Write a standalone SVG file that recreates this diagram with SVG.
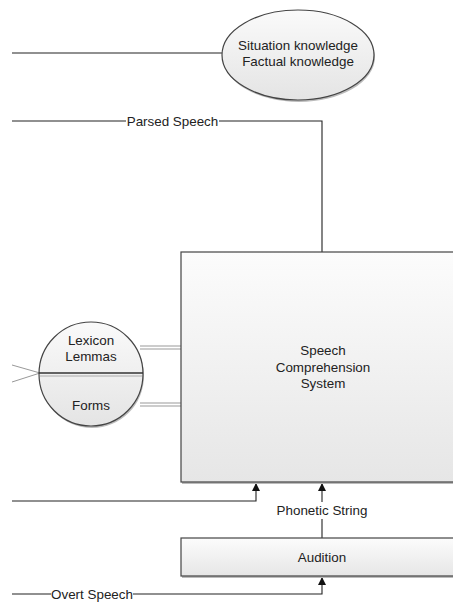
<svg xmlns="http://www.w3.org/2000/svg" width="453" height="604" viewBox="0 0 453 604">
  <defs>
    <linearGradient id="boxFill" x1="0" y1="0" x2="0" y2="1">
      <stop offset="0" stop-color="#fcfcfc"/>
      <stop offset="1" stop-color="#e6e6e6"/>
    </linearGradient>
    <linearGradient id="ovalFill" x1="0" y1="0" x2="0" y2="1">
      <stop offset="0" stop-color="#fafafa"/>
      <stop offset="1" stop-color="#e4e4e4"/>
    </linearGradient>
    <marker id="arrow" viewBox="0 0 8 8" refX="8" refY="4" markerWidth="8" markerHeight="8" orient="auto" markerUnits="userSpaceOnUse">
      <path d="M0,0 L8,4 L0,8 Z" fill="#111"/>
    </marker>
  </defs>
  <style>
    .txt { font-family: "Liberation Sans", Arial, sans-serif; font-size: 13.4px; fill: #222; text-anchor: middle; }
    .wire { fill: none; stroke: #222; stroke-width: 1.1; }
    .shape { stroke: #444; stroke-width: 1.2; }
    .shadow { fill: #bbb; }
    .dbl { fill: none; stroke: #999; stroke-width: 1; }
  </style>
  <rect width="453" height="604" fill="#ffffff"/>

  <g id="connectors">
    <!-- knowledge link -->
    <line class="wire" x1="12" y1="53" x2="222" y2="53"/>
    <!-- parsed speech -->
    <polyline class="wire" points="12,121 322,121 322,252"/>
    <rect x="126" y="113" width="93" height="16" fill="#fff"/>
    <!-- lexicon to comprehension system, double strokes -->
    <line class="dbl" x1="140" y1="346" x2="181" y2="346" stroke="#666"/>
    <line class="dbl" x1="140" y1="349" x2="181" y2="349"/>
    <line class="dbl" x1="140" y1="403" x2="181" y2="403" stroke="#666"/>
    <line class="dbl" x1="140" y1="406" x2="181" y2="406"/>
    <!-- incoming lines to lexicon -->
    <line class="dbl" x1="12" y1="365" x2="40" y2="373" stroke="#666"/>
    <line class="dbl" x1="12" y1="382" x2="40" y2="373" stroke="#666"/>
    <!-- bottom-left input -->
    <polyline class="wire" points="12,501 256,501 256,483" marker-end="url(#arrow)"/>
    <!-- phonetic string -->
    <line class="wire" x1="322" y1="538" x2="322" y2="483" marker-end="url(#arrow)"/>
    <rect x="272" y="502" width="100" height="17" fill="#fff"/>
    <!-- overt speech -->
    <polyline class="wire" points="12,594 322,594 322,577" marker-end="url(#arrow)"/>
    <rect x="51" y="586" width="82" height="16" fill="#fff"/>
  </g>

  <g id="labels">
    <text class="txt" x="172.5" y="125.5">Parsed Speech</text>
    <text class="txt" x="322" y="515">Phonetic String</text>
    <text class="txt" x="92" y="598.5">Overt Speech</text>
  </g>

  <g id="knowledge">
    <ellipse cx="299" cy="57" rx="76" ry="45" class="shadow"/>
    <ellipse cx="298" cy="55" rx="76" ry="45" fill="url(#ovalFill)" class="shape"/>
    <text class="txt" x="298" y="50">Situation knowledge</text>
    <text class="txt" x="298" y="66">Factual knowledge</text>
  </g>

  <g id="lexicon">
    <circle cx="92" cy="376" r="52" class="shadow"/>
    <circle cx="91" cy="374" r="52" fill="url(#ovalFill)" class="shape"/>
    <line x1="39" y1="373" x2="143" y2="373" stroke="#333" stroke-width="1.3"/>
    <line x1="40" y1="376" x2="142" y2="376" stroke="#aaa" stroke-width="1"/>
    <text class="txt" x="91" y="345">Lexicon</text>
    <text class="txt" x="91" y="361">Lemmas</text>
    <text class="txt" x="91" y="410">Forms</text>
  </g>

  <g id="comprehension">
    <rect x="182" y="254" width="275" height="230" class="shadow"/>
    <rect x="181" y="252" width="275" height="230" fill="url(#boxFill)" class="shape"/>
    <text class="txt" x="323" y="355">Speech</text>
    <text class="txt" x="323" y="371.5">Comprehension</text>
    <text class="txt" x="323" y="388">System</text>
  </g>

  <g id="audition">
    <rect x="182" y="540" width="275" height="38" class="shadow"/>
    <rect x="181" y="538" width="275" height="38" fill="url(#boxFill)" class="shape"/>
    <text class="txt" x="322" y="561.5">Audition</text>
  </g>
</svg>
